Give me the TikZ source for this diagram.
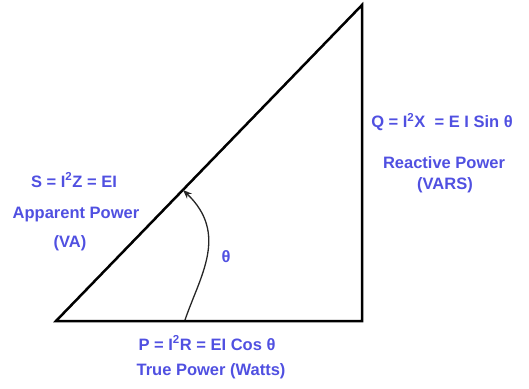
\documentclass[tikz,border=0pt]{standalone}
\usepackage{fontspec}
\setmainfont{Liberation Sans}
\usepackage{xcolor}
\usetikzlibrary{arrows.meta}
\definecolor{powerblue}{RGB}{80,80,225}

\begin{document}
\begin{tikzpicture}[
  x=1pt, y=1pt,
  side/.style={draw=black, line width=2.5pt, line join=miter},
  anglearc/.style={draw=black!85, line width=1.3pt, -{Stealth[length=9pt,width=7pt]}},
  lbl/.style={text=powerblue, font=\fontsize{16.5}{19}\selectfont\bfseries, inner sep=0pt}
]
  \useasboundingbox (0,0) rectangle (529,388);
  % corners of the power triangle
  \coordinate (base left) at (56,67);
  \coordinate (base right) at (362,67);
  \coordinate (apex) at (362,383);
  \draw[side] (base left) -- (base right) -- (apex) -- cycle;

  % angle marker
  \coordinate (arc start) at (185,68);
  \coordinate (arc end) at (183,198);
  \draw[anglearc] (arc start) .. controls (200,112) and (229,154) .. (arc end);
  \node[lbl] (theta) at (226,131) {θ};

  \node[lbl] (apparent eq) at (74,208) {S = I\textsuperscript{2}Z = EI};
  \node[lbl] (apparent) at (76,173) {Apparent Power};
  \node[lbl] (apparent unit) at (70,145) {(VA)};

  \node[lbl] (reactive eq) at (442,266) {Q = I\textsuperscript{2}X \ = E I Sin θ};
  \node[lbl] (reactive) at (444,225) {Reactive Power};
  \node[lbl] (reactive unit) at (445,203) {(VARS)};

  \node[lbl] (true eq) at (207,45) {P = I\textsuperscript{2}R = EI Cos θ};
  \node[lbl] (true) at (211,17) {True Power (Watts)};
\end{tikzpicture}
\end{document}
